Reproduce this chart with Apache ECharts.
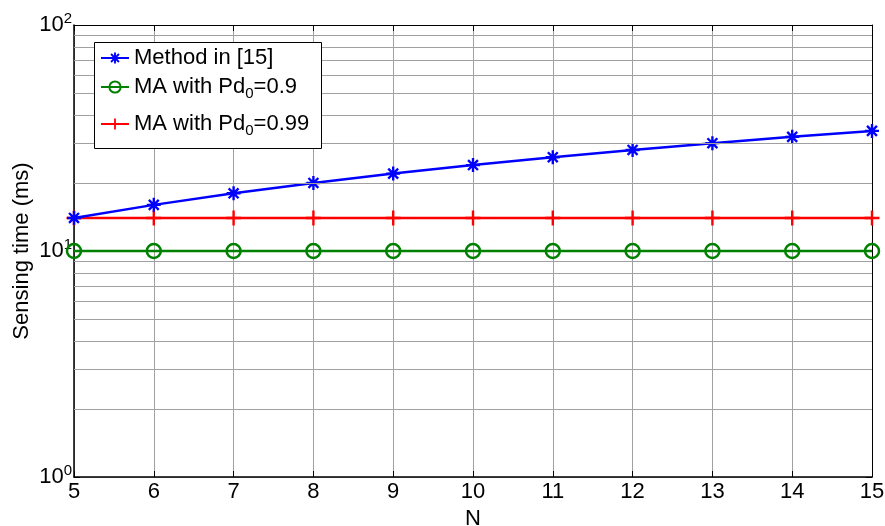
<!DOCTYPE html>
<html>
<head>
<meta charset="utf-8">
<script src="https://cdn.jsdelivr.net/npm/echarts@6/dist/echarts.min.js"></script>
<style>html,body{margin:0;padding:0;background:#fff}#c{width:885px;height:526px}</style>
</head>
<body>
<div id="c"></div>
<script>
const nValues = [5, 6, 7, 8, 9, 10, 11, 12, 13, 14, 15];
const methodIn15 = [14, 16, 18, 20, 22, 24, 26, 28, 30, 32, 34];
const maPd09 = [10, 10, 10, 10, 10, 10, 10, 10, 10, 10, 10];
const maPd099 = [14, 14, 14, 14, 14, 14, 14, 14, 14, 14, 14];
const yMajorTicks = [1, 10, 100];
const yAllTicks = [1, 2, 3, 4, 5, 6, 7, 8, 9, 10, 20, 30, 40, 50, 60, 70, 80, 90, 100];
const minorGridValues = [2, 3, 4, 5, 6, 7, 8, 9, 20, 30, 40, 50, 60, 70, 80, 90];
const seriesNames = ['Method in [15]', 'MA with Pd_0=0.9', 'MA with Pd_0=0.99'];

const FONT = 'Liberation Sans, Arial, sans-serif';
const pairs = arr => nValues.map((n, i) => [n, arr[i]]);

const asterisk = 'path://M0 8.3 L20 8.3 L20 11.7 L0 11.7 Z M8.3 0 L11.7 0 L11.7 20 L8.3 20 Z ' +
  'M4.13 1.73 L18.27 15.87 L15.87 18.27 L1.73 4.13 Z M18.27 4.13 L4.13 18.27 L1.73 15.87 L15.87 1.73 Z';
const plus = 'path://M0 8.4 L20 8.4 L20 11.6 L0 11.6 Z M8.4 0 L11.6 0 L11.6 20 L8.4 20 Z';

const chart = echarts.init(document.getElementById('c'), null, {renderer: 'canvas'});

const legendCommon = {
  orient: 'vertical',
  left: 100,
  itemWidth: 28,
  itemHeight: 14,
  itemGap: 0,
  z: 20,
  selectedMode: false,
  padding: 0,
  formatter: name => name.replace('_0', '{sub|0}'),
  textStyle: {
    fontFamily: FONT, fontSize: 22, color: '#000',
    rich: {
      sub: {fontFamily: FONT, fontSize: 15, color: '#000', verticalAlign: 'bottom', padding: [13, 0, 0, 0]}
    }
  }
};

const option = {
  backgroundColor: '#fff',
  animation: false,
  grid: {left: 74, right: 13, top: 25, bottom: 49, containLabel: false, outerBoundsMode: 'none'},
  graphic: [{
    type: 'rect', z: 10,
    shape: {x: 94.5, y: 42.5, width: 227, height: 106},
    style: {fill: '#fff', stroke: '#000', lineWidth: 1}
  }],
  legend: [
    Object.assign({}, legendCommon, {data: [seriesNames[0]], top: 47}),
    Object.assign({}, legendCommon, {data: [seriesNames[1]], top: 76}),
    Object.assign({}, legendCommon, {data: [seriesNames[2]], top: 113})
  ],
  xAxis: [{
    type: 'value', min: 5, max: 15, interval: 1,
    name: 'N', nameLocation: 'middle', nameGap: 31, nameMoveOverlap: false,
    nameTextStyle: {fontFamily: FONT, fontSize: 22, color: '#000'},
    axisLine: {show: true, lineStyle: {color: '#000', width: 1.5}},
    axisTick: {show: true, inside: true, length: 6, lineStyle: {color: '#000'}},
    axisLabel: {fontFamily: FONT, fontSize: 22, color: '#000', margin: 4},
    splitLine: {show: true, lineStyle: {color: '#a0a0a0', width: 1}}
  }, {
    type: 'value', min: 5, max: 15, interval: 1, position: 'top',
    axisLine: {show: true, onZero: false, lineStyle: {color: '#000', width: 1}},
    axisTick: {show: true, inside: true, length: 6, lineStyle: {color: '#000'}},
    axisLabel: {show: false},
    splitLine: {show: false}
  }],
  yAxis: [{
    type: 'log', logBase: 10, min: 1, max: 100,
    name: 'Sensing time (ms)', nameLocation: 'middle', nameGap: 41, nameMoveOverlap: false,
    nameTextStyle: {fontFamily: FONT, fontSize: 22, color: '#000'},
    axisLine: {show: true, lineStyle: {color: '#000', width: 1.5}},
    axisTick: {show: true, inside: true, length: 6, customValues: yAllTicks, lineStyle: {color: '#000'}},
    axisLabel: {
      fontFamily: FONT, fontSize: 22, color: '#000', margin: 2,
      customValues: yMajorTicks,
      formatter: v => '10{sup|' + Math.round(Math.log10(v)) + '}',
      rich: {sup: {fontFamily: FONT, fontSize: 15, color: '#000', verticalAlign: 'top', padding: [0, 0, 12, 0]}}
    },
    splitLine: {show: true, lineStyle: {color: '#a0a0a0', width: 1}}
  }, {
    type: 'log', logBase: 10, min: 1, max: 100, position: 'right',
    axisLine: {show: true, onZero: false, lineStyle: {color: '#000', width: 1}},
    axisTick: {show: true, inside: true, length: 6, customValues: yAllTicks, lineStyle: {color: '#000'}},
    axisLabel: {show: false},
    splitLine: {show: false}
  }],
  series: [
    {
      name: 'gridlines', type: 'line', data: [], z: 1, silent: true,
      markLine: {
        silent: true, symbol: 'none', animation: false,
        label: {show: false},
        lineStyle: {color: '#a0a0a0', width: 1, type: 'solid'},
        data: minorGridValues.map(v => ({yAxis: v}))
      }
    },
    {
      name: seriesNames[0], type: 'line', clip: false, z: 4,
      data: pairs(methodIn15),
      symbol: asterisk, symbolSize: 14,
      itemStyle: {color: '#0000ff'},
      lineStyle: {color: '#0000ff', width: 2.5}
    },
    {
      name: seriesNames[1], type: 'line', clip: false, z: 3,
      data: pairs(maPd09),
      symbol: 'circle', symbolSize: 14,
      itemStyle: {color: 'rgba(0,0,0,0)', borderColor: '#008000', borderWidth: 2.5},
      lineStyle: {color: '#008000', width: 2.5}
    },
    {
      name: seriesNames[2], type: 'line', clip: false, z: 3,
      data: pairs(maPd099),
      symbol: plus, symbolSize: 15,
      itemStyle: {color: '#ff0000'},
      lineStyle: {color: '#ff0000', width: 2.5}
    }
  ]
};
chart.setOption(option);
</script>
</body>
</html>
